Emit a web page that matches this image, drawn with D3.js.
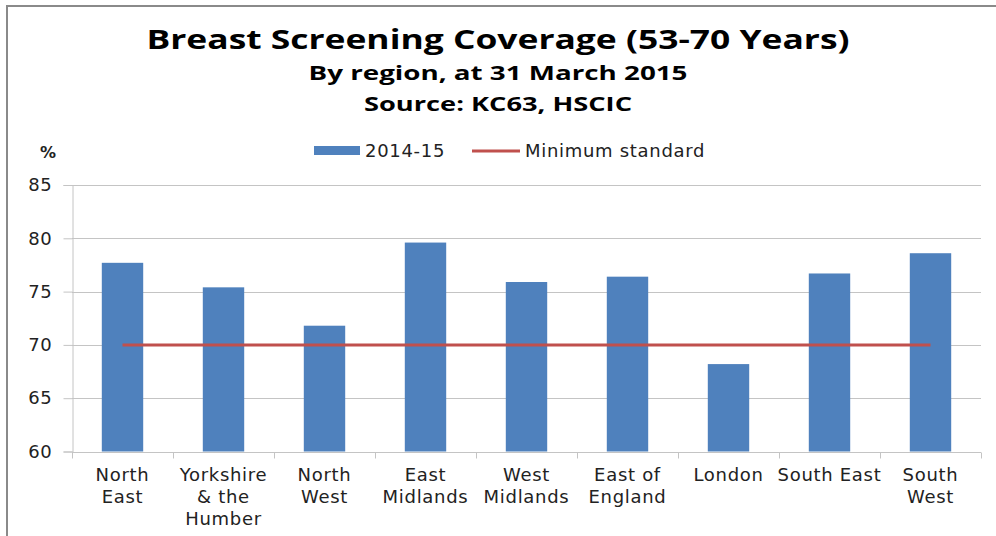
<!DOCTYPE html>
<html>
<head>
<meta charset="utf-8">
<script src="https://cdn.jsdelivr.net/npm/d3@7"></script>
<style>
  body { margin: 0; background: #fff; }
  text { fill: #222; }
</style>
</head>
<body>
<svg id="chart" width="996" height="536"></svg>
<script>
// data
var regions = [["North", "East"], ["Yorkshire", "& the", "Humber"], ["North", "West"],
               ["East", "Midlands"], ["West", "Midlands"], ["East of", "England"],
               ["London"], ["South East"], ["South", "West"]];
var coverage = [77.7, 75.4, 71.8, 79.6, 75.9, 76.4, 68.2, 76.7, 78.6];
var minStandard = 70;
var yTicks = [60, 65, 70, 75, 80, 85];
var titles = ["Breast Screening Coverage (53-70 Years)", "By region, at 31 March 2015", "Source: KC63, HSCIC"];
var legendLabels = ["2014-15", "Minimum standard"];

var svg = d3.select("#chart"),
    margin = { left: 72, right: 15, top: 185, bottom: 84.5 },
    width = 996 - margin.left - margin.right,
    height = 536 - margin.top - margin.bottom,
    barColor = "#4f81bd",
    lineColor = "#c0504d",
    gridColor = "#c4c4c4",
    axisFont = "'DejaVu Sans', Verdana, sans-serif";

function axisText(sel) {
    sel.style("font-family", axisFont)
        .style("font-size", "18px")
        .style("letter-spacing", "0.7px")
        .attr("fill", "#222");
}

// outer frame
svg.append("path")
    .attr("d", "M7,540 V6 H1000")
    .attr("fill", "none")
    .attr("stroke", "#8a8a8a")
    .attr("stroke-width", 2);

// titles
var titleStyle = [
    { size: 26, y: 49, len: 703 },
    { size: 19, y: 80, len: 379 },
    { size: 19, y: 111, len: 268 }
];
svg.selectAll(".title")
    .data(titles)
    .enter()
    .append("text")
    .attr("class", "title")
    .attr("x", 498)
    .attr("y", function (d, i) { return titleStyle[i].y; })
    .attr("text-anchor", "middle")
    .attr("textLength", function (d, i) { return titleStyle[i].len; })
    .attr("lengthAdjust", "spacingAndGlyphs")
    .style("font-family", "'Open Sans', sans-serif")
    .style("font-weight", 700)
    .style("font-size", function (d, i) { return titleStyle[i].size + "px"; })
    .style("fill", "#000")
    .text(function (d) { return d; });

var g = svg.append("g").attr("transform", "translate(" + margin.left + "," + margin.top + ")");

var x = d3.scaleBand()
    .domain(d3.range(regions.length))
    .range([0, width])
    .paddingInner(0.59)
    .paddingOuter(0.295);

var y = d3.scaleLinear()
    .domain([60, 85])
    .range([height, 0]);

// gridlines
g.selectAll(".grid")
    .data(yTicks.slice(1))
    .enter()
    .append("line")
    .attr("x1", 0)
    .attr("x2", width)
    .attr("y1", function (d) { return Math.round(y(d)) + 0.5; })
    .attr("y2", function (d) { return Math.round(y(d)) + 0.5; })
    .attr("stroke", gridColor);

// y axis
var yAxis = g.append("g")
    .attr("transform", "translate(0.5,0)")
    .call(d3.axisLeft(y).tickValues(yTicks).tickSize(9).tickPadding(11));
yAxis.selectAll("line, path").attr("stroke", gridColor);
yAxis.selectAll("text").call(axisText);

// bars
g.selectAll(".bar")
    .data(coverage)
    .enter()
    .append("rect")
    .attr("class", "bar")
    .attr("x", function (d, i) { return x(i); })
    .attr("width", x.bandwidth())
    .attr("y", function (d) { return y(d); })
    .attr("height", function (d) { return height - y(d); })
    .attr("fill", barColor);

// x axis with ticks at category boundaries
var xa = g.append("g").attr("transform", "translate(0," + (Math.round(height) + 0.5) + ")");
xa.append("line").attr("x1", 0).attr("x2", width).attr("stroke", gridColor);
xa.selectAll(".xtick")
    .data(d3.range(regions.length + 1))
    .enter()
    .append("line")
    .attr("x1", function (d) { return Math.round(d * x.step()) + 0.5; })
    .attr("x2", function (d) { return Math.round(d * x.step()) + 0.5; })
    .attr("y1", 0)
    .attr("y2", 6)
    .attr("stroke", gridColor);

xa.selectAll(".xlabel")
    .data(regions)
    .enter()
    .append("text")
    .attr("class", "xlabel")
    .attr("text-anchor", "middle")
    .call(axisText)
    .selectAll("tspan")
    .data(function (d, i) { return d.map(function (s) { return { s: s, i: i }; }); })
    .enter()
    .append("tspan")
    .attr("x", function (d) { return x(d.i) + x.bandwidth() / 2; })
    .attr("y", function (d, j) { return 28 + j * 22; })
    .text(function (d) { return d.s; });

// minimum standard line
var line = d3.line()
    .x(function (d, i) { return x(i) + x.bandwidth() / 2; })
    .y(function () { return y(minStandard); });
g.append("path")
    .datum(coverage)
    .attr("d", line)
    .attr("fill", "none")
    .attr("stroke", lineColor)
    .attr("stroke-width", 3);

// % label
svg.append("text")
    .attr("x", 48)
    .attr("y", 158)
    .attr("text-anchor", "middle")
    .style("font-family", axisFont)
    .style("font-size", "16px")
    .style("font-weight", 700)
    .text("%");

// legend
var legend = svg.append("g");
legend.append("rect")
    .attr("x", 314).attr("y", 146)
    .attr("width", 46).attr("height", 9)
    .attr("fill", barColor);
legend.append("text")
    .attr("x", 365).attr("y", 157)
    .call(axisText)
    .text(legendLabels[0]);
legend.append("line")
    .attr("x1", 472).attr("x2", 520)
    .attr("y1", 151).attr("y2", 151)
    .attr("stroke", lineColor)
    .attr("stroke-width", 3);
legend.append("text")
    .attr("x", 525).attr("y", 157)
    .call(axisText)
    .text(legendLabels[1]);
</script>
</body>
</html>
